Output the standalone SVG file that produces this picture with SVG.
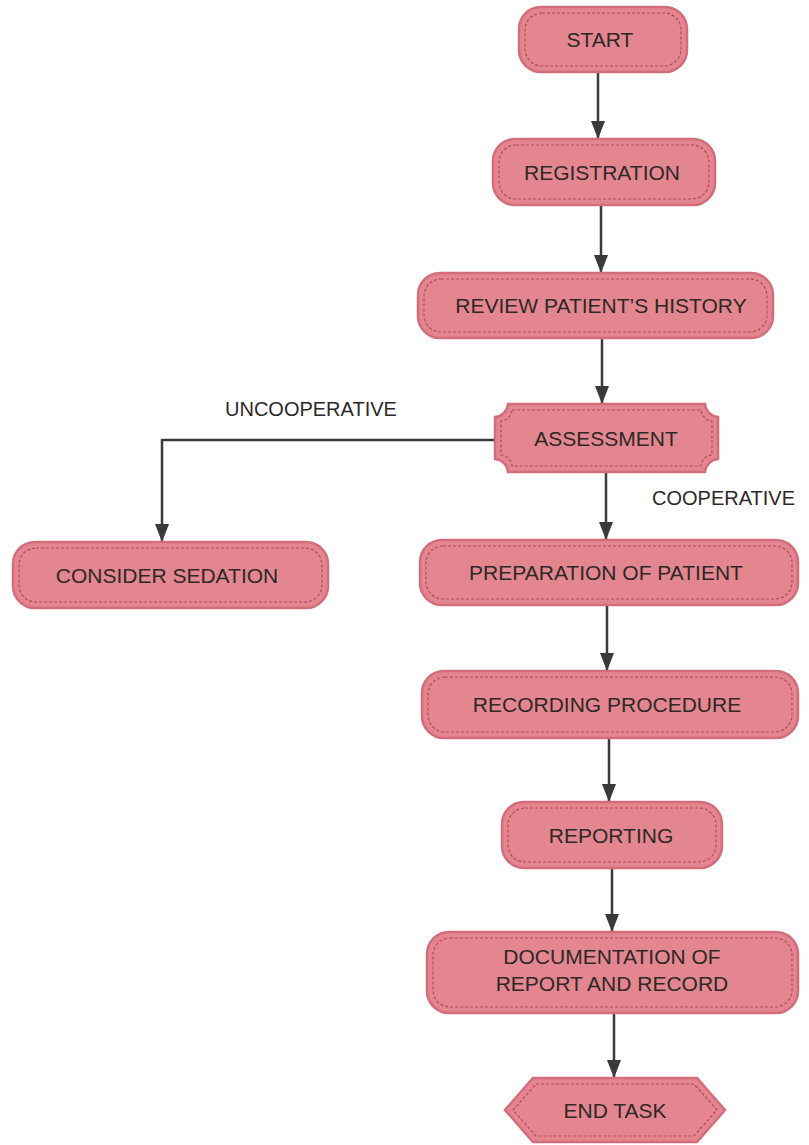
<svg xmlns="http://www.w3.org/2000/svg" width="809" height="1145" viewBox="0 0 809 1145">
  <style>
    .box { fill: #e3868f; stroke: #d46d7b; stroke-width: 2.5; }
    .inner { fill: none; stroke: #b54a5c; stroke-width: 1.2; stroke-dasharray: 3 2; }
    .t { font-family: "Liberation Sans", Arial, sans-serif; font-size: 21px; fill: #2e2828; text-anchor: middle; }
    .lbl { font-family: "Liberation Sans", Arial, sans-serif; font-size: 20px; fill: #2e2828; }
    .conn { fill: none; stroke: #3a3a3a; stroke-width: 2.5; }
  </style>
  <defs>
    <marker id="ah" viewBox="0 0 18 14" refX="18" refY="7" markerWidth="18" markerHeight="14" markerUnits="userSpaceOnUse" orient="auto">
      <path d="M0,0 L18,7 L0,14 Z" fill="#3a3a3a"/>
    </marker>
  </defs>
  <rect width="809" height="1145" fill="#ffffff"/>

  <g id="connectors">
    <path class="conn" d="M598,72 V139" marker-end="url(#ah)"/>
    <path class="conn" d="M601,205 V273" marker-end="url(#ah)"/>
    <path class="conn" d="M602,338 V404" marker-end="url(#ah)"/>
    <path class="conn" d="M606,472 V540" marker-end="url(#ah)"/>
    <path class="conn" d="M607,605 V671" marker-end="url(#ah)"/>
    <path class="conn" d="M609,738 V802" marker-end="url(#ah)"/>
    <path class="conn" d="M612,868 V932" marker-end="url(#ah)"/>
    <path class="conn" d="M614,1013 V1078" marker-end="url(#ah)"/>
    <path class="conn" d="M495,440 H162 V542" marker-end="url(#ah)"/>
    <text class="lbl" x="225" y="416">UNCOOPERATIVE</text>
    <text class="lbl" x="652" y="505">COOPERATIVE</text>
  </g>

  <g id="start">
    <rect class="box" x="519" y="7" width="168" height="65" rx="22"/>
    <rect class="inner" x="525" y="13" width="156" height="53" rx="17"/>
    <text class="t" x="600" y="47">START</text>
  </g>

  <g id="registration">
    <rect class="box" x="493" y="139" width="222" height="66" rx="22"/>
    <rect class="inner" x="499" y="145" width="210" height="54" rx="17"/>
    <text class="t" x="602" y="180">REGISTRATION</text>
  </g>

  <g id="review">
    <rect class="box" x="418" y="273" width="355" height="65" rx="22"/>
    <rect class="inner" x="424" y="279" width="343" height="53" rx="17"/>
    <text class="t" x="601" y="313">REVIEW PATIENT’S HISTORY</text>
  </g>

  <g id="assessment">
    <path class="box" d="M508,404 H705 A14,14 0 0 0 718,417 V459 A14,14 0 0 0 705,472 H508 A14,14 0 0 0 495,459 V417 A14,14 0 0 0 508,404 Z"/>
    <path class="inner" d="M512,410 H701 A12,12 0 0 0 712,421 V455 A12,12 0 0 0 701,466 H512 A12,12 0 0 0 501,455 V421 A12,12 0 0 0 512,410 Z"/>
    <text class="t" x="606" y="446">ASSESSMENT</text>
  </g>

  <g id="consider-sedation">
    <rect class="box" x="13" y="542" width="315" height="66" rx="22"/>
    <rect class="inner" x="19" y="548" width="303" height="54" rx="17"/>
    <text class="t" x="167" y="583">CONSIDER SEDATION</text>
  </g>

  <g id="preparation">
    <rect class="box" x="420" y="540" width="378" height="65" rx="22"/>
    <rect class="inner" x="426" y="546" width="366" height="53" rx="17"/>
    <text class="t" x="606" y="580">PREPARATION OF PATIENT</text>
  </g>

  <g id="recording">
    <rect class="box" x="422" y="671" width="376" height="67" rx="22"/>
    <rect class="inner" x="428" y="677" width="364" height="55" rx="17"/>
    <text class="t" x="607" y="712">RECORDING PROCEDURE</text>
  </g>

  <g id="reporting">
    <rect class="box" x="502" y="802" width="220" height="66" rx="22"/>
    <rect class="inner" x="508" y="808" width="208" height="54" rx="17"/>
    <text class="t" x="611" y="843">REPORTING</text>
  </g>

  <g id="documentation">
    <rect class="box" x="427" y="932" width="371" height="81" rx="22"/>
    <rect class="inner" x="433" y="938" width="359" height="69" rx="17"/>
    <text class="t" x="612" y="964">DOCUMENTATION OF</text>
    <text class="t" x="612" y="991">REPORT AND RECORD</text>
  </g>

  <g id="end-task">
    <path class="box" d="M533,1078 H697 L725,1110 L697,1142 H533 L505,1110 Z"/>
    <path class="inner" d="M536,1084 H694 L717,1110 L694,1136 H536 L513,1110 Z"/>
    <text class="t" x="615" y="1118">END TASK</text>
  </g>
</svg>
